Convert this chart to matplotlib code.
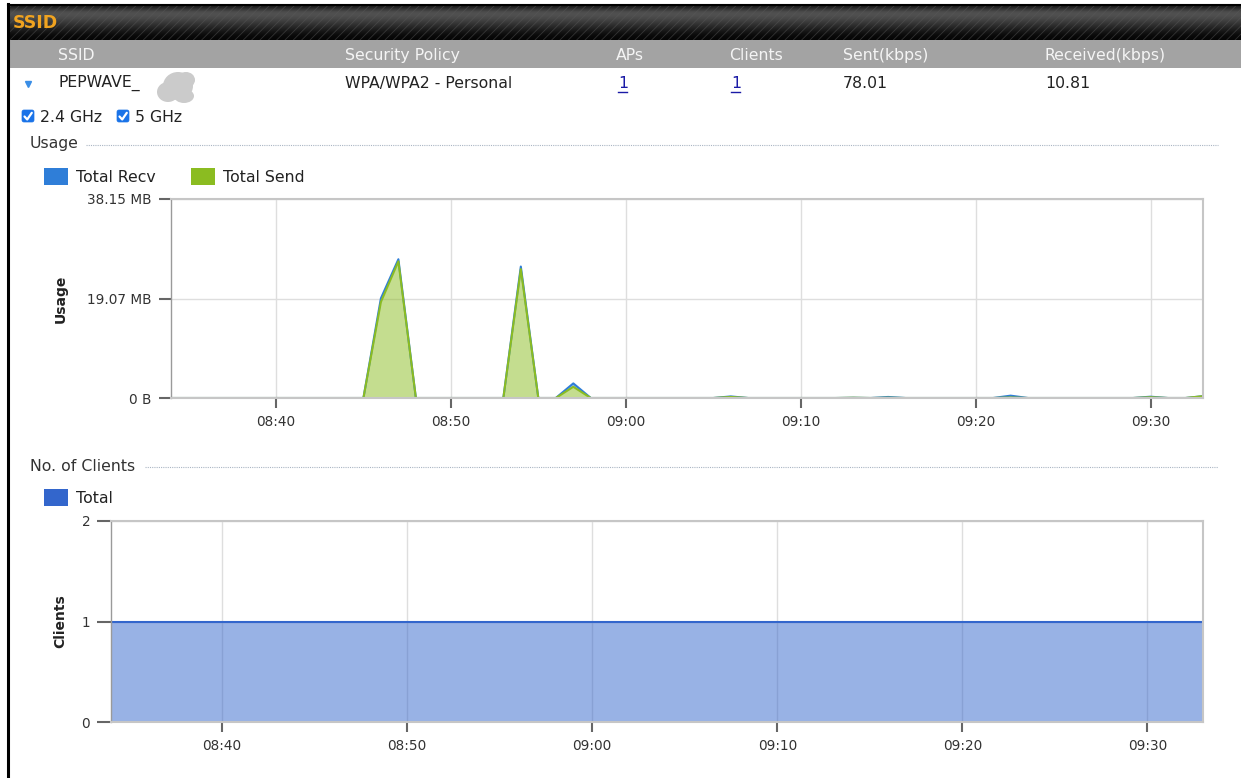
import numpy as np
import pandas as pd
import matplotlib
matplotlib.use("Agg")
import matplotlib.pyplot as plt
import matplotlib.dates as mdates
from matplotlib.patches import Rectangle, FancyBboxPatch, Ellipse

plt.rcParams['font.family'] = ['DejaVu Sans']
plt.rcParams['hatch.linewidth'] = 0.6

W, H = 1241, 778

# one sample per minute, 08:34 .. 09:33
times = pd.date_range("2024-01-01 08:34", "2024-01-01 09:33", freq="1min")

# usage per minute in MB
send_mb = [0, 0, 0, 0, 0, 0, 0, 0, 0, 0,
           0, 0, 18.4, 26.2, 0, 0, 0, 0, 0, 0,
           24.7, 0, 0, 2.15, 0, 0, 0, 0, 0, 0,
           0, 0, 0.2, 0, 0, 0, 0, 0, 0, 0.05,
           0, 0.05, 0, 0, 0, 0, 0, 0, 0.1, 0,
           0, 0, 0, 0, 0, 0, 0.15, 0, 0, 0.35]
recv_mb = [0, 0, 0, 0, 0, 0, 0, 0, 0, 0,
           0, 0, 0.7, 0.4, 0, 0, 0, 0, 0, 0,
           0.5, 0, 0, 0.65, 0, 0, 0, 0, 0, 0,
           0, 0, 0.1, 0, 0, 0, 0, 0, 0, 0,
           0, 0.15, 0, 0, 0, 0, 0, 0, 0.35, 0,
           0, 0, 0, 0, 0, 0, 0.1, 0, 0, 0]
clients_total = [1, 1, 1, 1, 1, 1, 1, 1, 1, 1,
                 1, 1, 1, 1, 1, 1, 1, 1, 1, 1,
                 1, 1, 1, 1, 1, 1, 1, 1, 1, 1,
                 1, 1, 1, 1, 1, 1, 1, 1, 1, 1,
                 1, 1, 1, 1, 1, 1, 1, 1, 1, 1,
                 1, 1, 1, 1, 1, 1, 1, 1, 1, 1]

usage_ticks = [0, 19.073, 38.147]

table_cols = ["SSID", "Security Policy", "APs", "Clients", "Sent(kbps)", "Received(kbps)"]
table_row = ["PEPWAVE_", "WPA/WPA2 - Personal", "1", "1", "78.01", "10.81"]
col_x = [58, 345, 616, 729, 843, 1045]

RECV_C = "#2f7ed8"
SEND_C = "#8bbc21"
CLI_C = "#3366cc"
TXT = "#222222"
FS = 11.3

fig = plt.figure(figsize=(W / 100, H / 100), dpi=100)
fig.patch.set_facecolor("white")

# page furniture drawn in pixel coordinates
bg = fig.add_axes([0, 0, 1, 1])
bg.set_zorder(0)

grad = np.array([0.10, 0.30, 0.32, 0.28, 0.22, 0.16, 0.10, 0.05, 0.02]).reshape(-1, 1)
bg.imshow(grad, extent=[8, W, 40, 5], cmap="gray", vmin=0, vmax=1, aspect="auto", interpolation="bicubic")
bg.add_patch(Rectangle((8, 5), W - 8, 35, fill=False, hatch="////", edgecolor="#5a5a5a", lw=0, alpha=0.5))
bg.add_patch(Rectangle((8, 40), W - 8, 28, color="#a3a3a3", lw=0))
bg.plot([8, 8], [4, H], color="black", lw=2.2)
bg.plot([8, W], [5, 5], color="black", lw=1.5)
bg.text(13, 23, "SSID", color="#f0a320", fontsize=12.5, fontweight="bold", va="center")

for x, name in zip(col_x, table_cols):
    bg.text(x, 55, name, color="#f4f4f4", fontsize=FS, va="center")

# data row
bg.plot(28, 84, marker="v", ms=5, color="#3a8ee6")
for x, val in zip(col_x, table_row):
    link = val == "1"
    c = "#1a1aa6" if link else TXT
    bg.text(x + (2 if link else 0), 83, val, color=c, fontsize=FS, va="center")
    if link:
        bg.plot([x + 2, x + 11], [92, 92], color=c, lw=1)
for cx, cy, w, h in [(178, 86, 30, 28), (168, 92, 22, 20), (186, 80, 18, 16), (184, 96, 20, 14)]:
    bg.add_patch(Ellipse((cx, cy), w, h, color="#cbcbcb", lw=0))

# band checkboxes
for bx, label in [(22, "2.4 GHz"), (117, "5 GHz")]:
    bg.add_patch(FancyBboxPatch((bx, 110), 12, 12, boxstyle="round,pad=0,rounding_size=2",
                                fc="#1a73e8", ec="#1a73e8", lw=0.5))
    bg.plot([bx + 2.5, bx + 5.2, bx + 9.8], [116.5, 119.5, 112.8], color="white", lw=1.6,
            solid_capstyle="round")
    bg.text(bx + 18, 117, label, color=TXT, fontsize=FS, va="center")

# section headings
bg.text(30, 143, "Usage", color="#333333", fontsize=FS, va="center")
bg.plot([86, 1218], [145, 145], color="#aab6c4", lw=0.8, ls=(0, (1, 1)))
bg.text(30, 466, "No. of Clients", color="#333333", fontsize=FS, va="center")
bg.plot([145, 1218], [467, 467], color="#aab6c4", lw=0.8, ls=(0, (1, 1)))

# legends
for lx, color, label, ly in [(44, RECV_C, "Total Recv", 177), (191, SEND_C, "Total Send", 177),
                             (44, CLI_C, "Total", 498)]:
    bg.add_patch(Rectangle((lx, ly - 9), 24, 17, color=color, lw=0))
    bg.text(lx + 32, ly, label, color=TXT, fontsize=FS, va="center")

bg.set_xlim(0, W)
bg.set_ylim(H, 0)
bg.axis("off")


def px_axes(left, top, right, bottom):
    return fig.add_axes([left / W, (H - bottom) / H, (right - left) / W, (bottom - top) / H])


def style(ax, ylabel, ylen):
    ax.set_facecolor("white")
    ax.set_axisbelow(True)
    ax.grid(True, color="#dedede", lw=1)
    for side in ["top", "right", "bottom"]:
        ax.spines[side].set_color("#c6c6c6")
        ax.spines[side].set_linewidth(1.5)
    ax.spines["left"].set_color("#9a9a9a")
    ax.spines["left"].set_linewidth(1)
    ax.xaxis.set_major_locator(mdates.MinuteLocator(byminute=[0, 10, 20, 30, 40, 50]))
    ax.xaxis.set_major_formatter(mdates.DateFormatter("%H:%M"))
    ax.tick_params(axis="x", length=7, width=1.5, color="#666666", pad=5, labelsize=9.8, labelcolor="#333333")
    ax.tick_params(axis="y", length=ylen, width=1.5, color="#666666", pad=5, labelsize=9.8, labelcolor="#333333")
    ax.set_xlim(times[0], times[-1])
    ax.set_ylabel(ylabel, fontsize=10, fontweight="bold", color=TXT)


# usage chart (recv stacked on send)
ax1 = px_axes(171, 199, 1203, 398)
send = np.array(send_mb)
top = send + np.array(recv_mb)
ax1.fill_between(times, 0, send, color=SEND_C, alpha=0.5, lw=0)
ax1.fill_between(times, send, top, color=RECV_C, alpha=0.5, lw=0)
ax1.plot(times, top, color=RECV_C, lw=1.5)
ax1.plot(times, send, color=SEND_C, lw=1.5)
ax1.set_ylim(0, 38.147)
ax1.set_yticks(usage_ticks)
ax1.yaxis.set_major_formatter(plt.FuncFormatter(lambda v, _: "0 B" if v == 0 else f"{v:.2f} MB"))
style(ax1, "Usage", 9)
ax1.yaxis.set_label_coords(-0.100, 0.5)

# clients chart
ax2 = px_axes(111, 521, 1203, 722)
ax2.fill_between(times, 0, clients_total, color=CLI_C, alpha=0.5, lw=0)
ax2.plot(times, clients_total, color=CLI_C, lw=1.5)
ax2.set_ylim(0, 2)
ax2.set_yticks([0, 1, 2])
style(ax2, "Clients", 10)
ax2.yaxis.set_label_coords(-0.040, 0.5)

fig.savefig("out.png", dpi=100)
